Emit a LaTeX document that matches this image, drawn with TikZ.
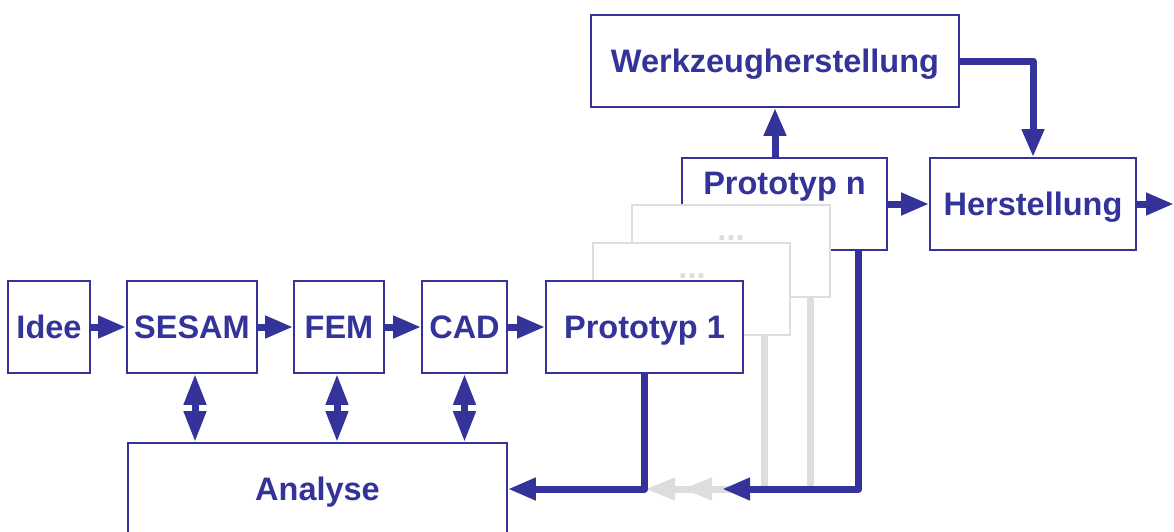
\documentclass[tikz,border=0pt]{standalone}
\usepackage{fontspec}
\setmainfont{Liberation Sans}
\usetikzlibrary{arrows.meta,calc}

\definecolor{flowblue}{RGB}{51,51,153}
\definecolor{ghostgrey}{RGB}{221,221,221}

\newcommand{\stagefont}{\fontsize{32.5}{38}\selectfont\bfseries}

\tikzset{
  stagebox/.style={draw=flowblue, line width=1.6pt, fill=white, inner sep=0pt,
    minimum height=92pt, text=flowblue, font=\stagefont,
    text height=23.2pt, text depth=0pt},
  ghostbox/.style={draw=ghostgrey, line width=1.6pt, fill=white, inner sep=0pt,
    minimum height=92pt},
  boxtext/.style={anchor=base, inner sep=0pt, text=flowblue, font=\stagefont},
  ghosttext/.style={anchor=base, inner sep=0pt, text=ghostgrey, font=\stagefont},
  flow/.style={draw=flowblue, line width=7pt, line join=round,
    -{Triangle[length=28pt,width=21pt]}},
  twoway/.style={draw=flowblue, line width=7pt,
    {Triangle[length=31pt,width=21pt]}-{Triangle[length=31pt,width=21pt]}},
  ghostflow/.style={draw=ghostgrey, line width=7pt, line join=round,
    -{Triangle[length=30pt,width=21pt]}},
}

\begin{document}
\begin{tikzpicture}[x=1pt,y=-1pt]
\useasboundingbox (0,0) rectangle (1174,531);

% upper branch: tooling and production
\node[stagebox, minimum width=368pt] (werk) at (775,61) {Werkzeugherstellung};
\node[stagebox, minimum width=206pt] (herst) at (1033,204) {Herstellung};

% stack of prototypes, back to front
\node[stagebox, minimum width=205pt] (protn) at (784.5,204) {};
\node[boxtext] (protnlbl) at (784.5,194) {Prototyp n};
\node[ghostbox, minimum width=198pt] (g2) at (731,251) {};
\node[ghosttext] (g2lbl) at (731,240) {...};
\node[ghostbox, minimum width=197pt] (g1) at (691.5,289) {};
\node[ghosttext] (g1lbl) at (692,278) {...};
\node[stagebox, minimum width=197pt] (p1) at (644.5,327) {Prototyp 1};

% main chain
\node[stagebox, minimum width=82pt] (idee) at (49,327) {Idee};
\node[stagebox, minimum width=130pt] (sesam) at (192,327) {SESAM};
\node[stagebox, minimum width=90pt] (fem) at (339,327) {FEM};
\node[stagebox, minimum width=85pt] (cad) at (464.5,327) {CAD};
\node[stagebox, minimum width=379pt] (an) at (317.5,489) {Analyse};

% forward flow
\draw[flow] (idee.east) -- (sesam.west);
\draw[flow] (sesam.east) -- (fem.west);
\draw[flow] (fem.east) -- (cad.west);
\draw[flow] (cad.east) -- (p1.west);
\draw[flow] (protn.east) -- (herst.west);
\coordinate (out) at (1174,204);
\draw[flow] (herst.east) -- (out);
\draw[flow] (protn.north -| werk.south) -- (werk.south);
\draw[flow] (werk.east) -| (herst.north);

% exchange with the analysis
\coordinate (d1) at ($(sesam.south)+(3,0)$);
\coordinate (d2) at ($(fem.south)+(-2,0)$);
\coordinate (d3) at (cad.south);
\draw[twoway] (d1) -- (d1 |- an.north);
\draw[twoway] (d2) -- (d2 |- an.north);
\draw[twoway] (d3) -- (d3 |- an.north);

% feedback from the intermediate prototypes
\coordinate (g1tip) at (645,489);
\coordinate (g2tip) at (682,489);
\draw[ghostflow] ($(g1.south east)+(-26,0)$) |- (g1tip);
\draw[ghostflow] ($(g2.south east)+(-20,0)$) |- (g2tip);

% feedback from first and last prototype
\draw[flow] (p1.south) |- (an.east);
\coordinate (ntip) at (722,489);
\draw[flow] ($(protn.south east)+(-29,0)$) |- (ntip);
\end{tikzpicture}
\end{document}
